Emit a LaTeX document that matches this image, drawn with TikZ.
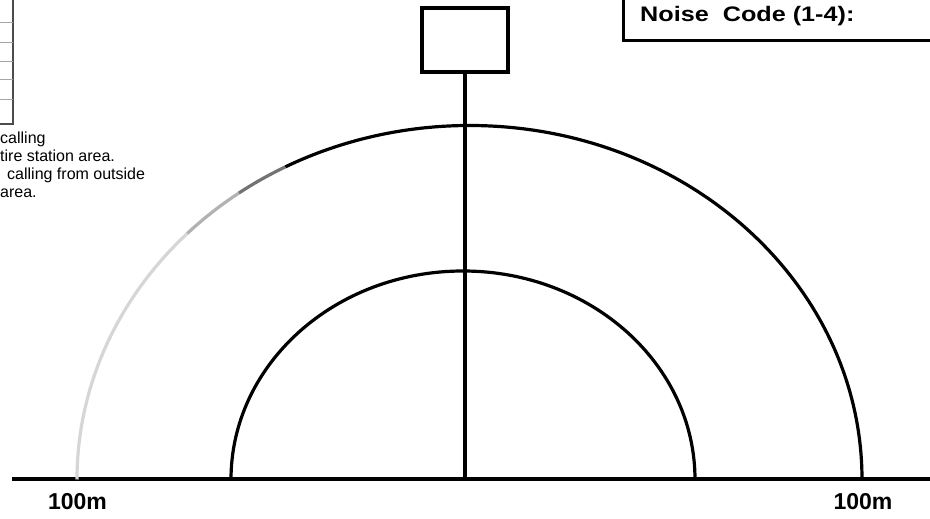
\documentclass[tikz,border=0pt]{standalone}
\usepackage{fontspec}
\setmainfont{Liberation Sans}
\begin{document}
\begin{tikzpicture}[x=1pt,y=1pt,
  thickline/.style={line width=3.5pt, black},
  arcline/.style={line width=3.2pt},
  gridline/.style={line width=1pt, black!35},
  smalltext/.style={anchor=base west, inner sep=0pt, font=\fontsize{16}{18}\selectfont},
  distlabel/.style={anchor=base, inner sep=0pt, font=\bfseries\fontsize{23}{23}\selectfont},
  mastbox/.style={draw, line width=3.5pt, minimum width=86pt, minimum height=64pt, inner sep=0pt, fill=white}]
\useasboundingbox (0,0) rectangle (930,519);
\fill[white] (0,0) rectangle (930,519);

% partial table at top left
\draw[line width=2pt, black!70] (13,519) -- (13,395);
\foreach \yy in {496,476,457,439,419} \draw[gridline] (0,\yy) -- (13,\yy);
\draw[line width=2pt, black!70] (0,395) -- (14,395);

% partial notes
\node[smalltext] (t1) at (0,375) {calling};
\node[smalltext] (t2) at (0,357) {tire station area.};
\node[smalltext] (t3) at (7,339) {calling from outside};
\node[smalltext] (t4) at (0,321) {area.};

% top-right box
\coordinate (nbtop) at (623,519);
\coordinate (nbcorner) at (623,478);
\coordinate (nbright) at (930,478);
\draw[line width=3pt, line join=miter] (nbtop) -- (nbcorner) -- (nbright);
\node[anchor=base west, inner sep=0pt, font=\bfseries\fontsize{21}{21}\selectfont] (noise) at (640,497) {\scalebox{1.2}[1]{Noise\ \ Code (1-4):}};

% baseline
\coordinate (bl) at (12,39.5);
\coordinate (br) at (930,39.5);
\draw[line width=4pt] (bl) -- (br);

% mast box and vertical line
\node[mastbox] (mast) at (465,479) {};
\coordinate (foot) at (465,39.5);
\draw[thickline] (mast.south) -- (foot);

% outer arc
\begin{scope}[shift={(469.5,39.5)}]
  \draw[arcline, black] (0:392.5pt and 354pt) arc[start angle=0, end angle=118, x radius=392.5pt, y radius=354pt];
  \draw[arcline, black!55] (118:392.5pt and 354pt) arc[start angle=118, end angle=126, x radius=392.5pt, y radius=354pt];
  \draw[arcline, black!30] (126:392.5pt and 354pt) arc[start angle=126, end angle=136, x radius=392.5pt, y radius=354pt];
  \draw[arcline, black!16] (136:392.5pt and 354pt) arc[start angle=136, end angle=180, x radius=392.5pt, y radius=354pt];
\end{scope}

% inner arc
\begin{scope}[shift={(463,39.5)}]
  \draw[arcline, black] (0:232pt and 208.5pt) arc[start angle=0, end angle=180, x radius=232pt, y radius=208.5pt];
\end{scope}

% distance labels
\node[distlabel] (dl) at (77.5,9) {100m};
\node[distlabel] (dr) at (863,9) {100m};
\end{tikzpicture}
\end{document}
